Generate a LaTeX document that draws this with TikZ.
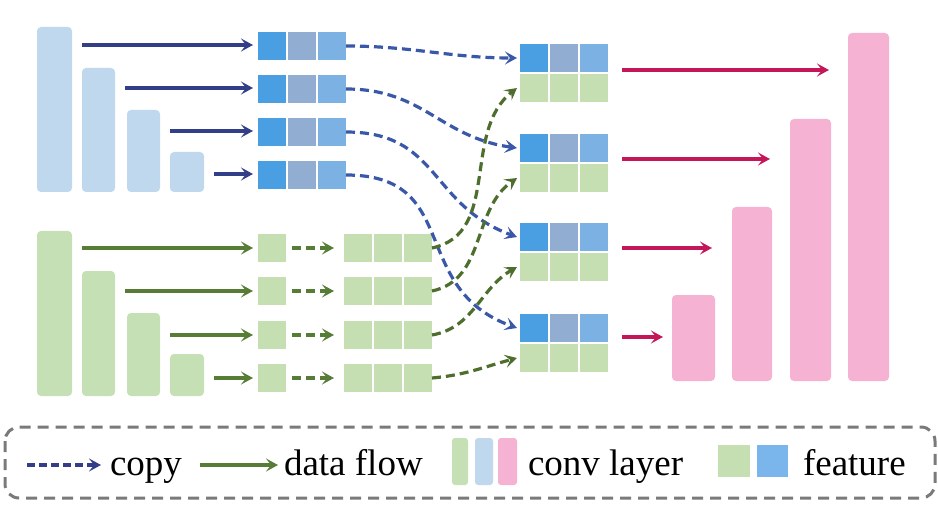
\documentclass[tikz,border=0pt]{standalone}
\usepackage{fontspec}
\setmainfont{Liberation Serif}
\usetikzlibrary{arrows.meta,calc}
\definecolor{barblue}{HTML}{C0D8ED}
\definecolor{bargreen}{HTML}{C5E0B4}
\definecolor{barpink}{HTML}{F5B2D2}
\definecolor{fblueA}{HTML}{4A9FE3}
\definecolor{fblueB}{HTML}{92ADD2}
\definecolor{fblueC}{HTML}{7BB2E3}
\definecolor{fgreen}{HTML}{C6DFB2}
\definecolor{navy}{HTML}{323F88}
\definecolor{dgreen}{HTML}{567C36}
\definecolor{crimson}{HTML}{C4175A}
\definecolor{cblue}{HTML}{3A58A8}
\definecolor{cgreen}{HTML}{4E6E2E}
\definecolor{legblue}{HTML}{7AB5EC}
\definecolor{boxgray}{HTML}{7A7A7A}
\begin{document}
\begin{tikzpicture}[x=1pt,y=-1pt,
  bar/.style={fill=#1, draw=none, rounded corners=4pt, inner sep=0pt, outer sep=0pt, anchor=north west},
  sq/.style={fill=#1, draw=none, minimum width=28pt, minimum height=28pt, inner sep=0pt, outer sep=0pt},
  tip/.style={-{Stealth[length=12pt,width=13pt,inset=5pt]}},
  solidarrow/.style={tip, line width=3.4pt, draw=#1},
  dasharrow/.style={tip, line width=3.2pt, draw=#1, dash pattern=on 9pt off 5pt},
  lab/.style={inner sep=0pt, outer sep=0pt, anchor=base west, font=\fontsize{37pt}{40pt}\selectfont}
]
\useasboundingbox (0,0) rectangle (938,508);

% blue conv bars
\node[bar=barblue, minimum width=35pt, minimum height=165pt] (b1) at (37,27) {};
\node[bar=barblue, minimum width=33pt, minimum height=124pt] (b2) at (82,68) {};
\node[bar=barblue, minimum width=33pt, minimum height=82pt] (b3) at (127,110) {};
\node[bar=barblue, minimum width=34pt, minimum height=40pt] (b4) at (170,152) {};
% green conv bars
\node[bar=bargreen, minimum width=35pt, minimum height=165pt] (g1) at (37,231) {};
\node[bar=bargreen, minimum width=33pt, minimum height=125pt] (g2) at (82,271) {};
\node[bar=bargreen, minimum width=33pt, minimum height=83pt] (g3) at (127,313) {};
\node[bar=bargreen, minimum width=34pt, minimum height=42pt] (g4) at (170,354) {};
% pink conv bars
\node[bar=barpink, minimum width=43pt, minimum height=86pt] (p1) at (672,295) {};
\node[bar=barpink, minimum width=40pt, minimum height=174pt] (p2) at (732,207) {};
\node[bar=barpink, minimum width=41pt, minimum height=262pt] (p3) at (790,119) {};
\node[bar=barpink, minimum width=41pt, minimum height=348pt] (p4) at (848,33) {};

% blue feature triples
\foreach \i/\y in {1/46,2/89,3/132,4/175}{
  \node[sq=fblueA] (f\i a) at (272,\y) {};
  \node[sq=fblueB] (f\i b) at (302,\y) {};
  \node[sq=fblueC] (f\i c) at (332,\y) {};
}
% green single squares and triples
\foreach \i/\y in {1/248,2/291,3/335,4/378}{
  \node[sq=fgreen] (s\i) at (272,\y) {};
  \node[sq=fgreen] (t\i a) at (358,\y) {};
  \node[sq=fgreen] (t\i b) at (388,\y) {};
  \node[sq=fgreen] (t\i c) at (418,\y) {};
}
% merged blocks
\foreach \i/\y in {1/58,2/148,3/237,4/328}{
  \node[sq=fblueA] (m\i a) at (534,\y) {};
  \node[sq=fblueB] (m\i b) at (564,\y) {};
  \node[sq=fblueC] (m\i c) at (594,\y) {};
  \node[sq=fgreen] (n\i a) at (534,\y+30) {};
  \node[sq=fgreen] (n\i b) at (564,\y+30) {};
  \node[sq=fgreen] (n\i c) at (594,\y+30) {};
}

% solid arrows from bars
\foreach \i in {1,2,3,4}{
  \draw[solidarrow=navy] ($(b\i.east |- f\i a.west)+(10,-1)$) -- ($(f\i a.west)+(-5,-1)$);
  \draw[solidarrow=dgreen] ($(g\i.east |- s\i.west)+(10,0)$) -- ($(s\i.west)+(-5,0)$);
  \draw[dasharrow=dgreen] ($(s\i.east)+(6,0)$) -- ($(t\i a.west)+(-10,0)$);
}

% copy curves
\draw[dasharrow=cblue] (f1c.east) to[out=0,in=180] ($(m1a.west)+(-3,0)$);
\draw[dasharrow=cblue] (f2c.east) to[out=0,in=172,looseness=1.1] ($(m2a.west)+(-3,0)$);
\draw[dasharrow=cblue] (f3c.east) to[out=0,in=160,looseness=1.2] ($(m3a.west)+(-3,0)$);
\draw[dasharrow=cblue] (f4c.east) to[out=0,in=160,looseness=1.3] ($(m4a.west)+(-3,0)$);
% green curves
\draw[dasharrow=cgreen] (t1c.east) to[out=12,in=218] ($(n1a.west)+(-3,0)$);
\draw[dasharrow=cgreen] (t2c.east) to[out=12,in=215] ($(n2a.west)+(-3,0)$);
\draw[dasharrow=cgreen] (t3c.east) to[out=10,in=210] ($(n3a.west)+(-3,0)$);
\draw[dasharrow=cgreen] (t4c.east) to[out=5,in=195] ($(n4a.west)+(-3,0)$);

% pink arrows
\draw[solidarrow=crimson] ($(m1c.east)+(14,12)$) -- ($(p4.west |- m1c.east)+(-19,12)$);
\draw[solidarrow=crimson] ($(m2c.east)+(14,11)$) -- ($(p3.west |- m2c.east)+(-20,11)$);
\draw[solidarrow=crimson] ($(m3c.east)+(14,11)$) -- ($(p2.west |- m3c.east)+(-20,11)$);
\draw[solidarrow=crimson] ($(m4c.east)+(14,9)$) -- ($(p1.west |- m4c.east)+(-9,9)$);

% legend
\draw[boxgray, line width=3pt, dash pattern=on 11pt off 7pt, rounded corners=14pt] (5,427) rectangle (935,498);
\coordinate (lc) at (27,465);
\node[lab] (tcopy) at (110,475) {copy};
\draw[tip, line width=3.4pt, draw=navy, dash pattern=on 8pt off 4pt] (lc) -- ($(tcopy.west |- lc)+(-9,0)$);
\coordinate (ld) at (200,465);
\node[lab] (tdata) at (284,475) {data flow};
\draw[solidarrow=dgreen] (ld) -- ($(tdata.west |- ld)+(-6,0)$);
\node[bar=bargreen, rounded corners=3pt, minimum width=16pt, minimum height=47pt] (lb1) at (452,438) {};
\node[bar=barblue, rounded corners=3pt, minimum width=18pt, minimum height=47pt] (lb2) at (475,438) {};
\node[bar=barpink, rounded corners=3pt, minimum width=19pt, minimum height=47pt] (lb3) at (498,438) {};
\node[lab] (tconv) at (528,475) {conv layer};
\node[bar=fgreen, rounded corners=0pt, minimum width=32pt, minimum height=32pt] (lf1) at (718,445) {};
\node[bar=legblue, rounded corners=0pt, minimum width=31pt, minimum height=32pt] (lf2) at (757,445) {};
\node[lab] (tfeat) at (803,475) {feature};
\end{tikzpicture}
\end{document}
